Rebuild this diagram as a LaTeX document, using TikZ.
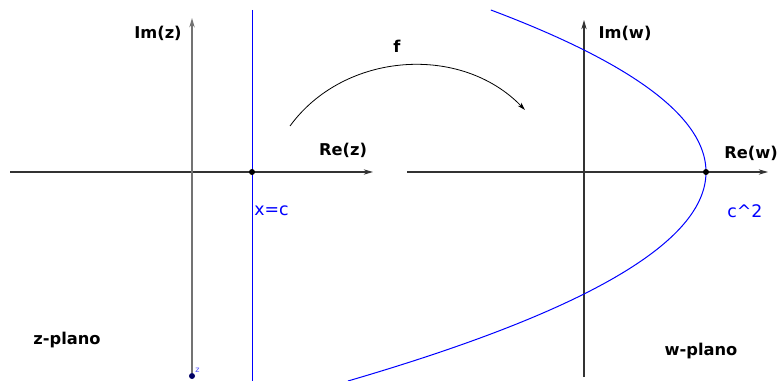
\documentclass[tikz,border=0pt]{standalone}
\usepackage{fontspec}
\setmainfont{DejaVu Sans}
\usetikzlibrary{arrows.meta, positioning}

\begin{document}
\begin{tikzpicture}[
			x=0.75pt, y=-0.75pt,
			% Node styles
			axisLabel/.style={font=\fontsize{12.2}{14}\selectfont\bfseries, inner sep=0pt},
			blueLabel/.style={font=\fontsize{13}{15}\selectfont, text=blue, inner sep=0pt, anchor=west},
			dotNode/.style={circle, fill=black, inner sep=0pt, minimum size=4.5pt},
			% Line styles
			axisLine/.style={draw=black!80, line width=0.8pt, -{Stealth[length=7pt, width=4pt]}},
			curveLine/.style={draw=blue, line width=0.75pt}
			]
			\useasboundingbox (0,0) rectangle (779,381);
			
			% =========================================================
			% 1. THE z-PLANE (Left)
			% =========================================================
			
			% Axis end points
			\coordinate (zLeft) at (10,172);
			\coordinate (zRight) at (373,172);
			\coordinate (zTop) at (192,18);
			
			% Origin of the bottom point (labelled z)
			\node[dotNode, fill=blue!40!black] (zPt) at (192,376) {};
			\node[font=\fontsize{6}{7}\selectfont, text=blue!70, inner sep=0pt, anchor=west] (zTag) at (195,370) {z};
			
			\draw[axisLine] (zLeft) -- (zRight);
			\draw[axisLine, draw=black!55, line width=1.1pt] (zPt) -- (zTop);
			
			% The vertical line x=c
			\coordinate (lineTop) at (252,10);
			\coordinate (lineBot) at (252,381);
			\draw[curveLine] (lineTop) -- (lineBot);
			\node[dotNode] (cPt) at (252,172) {};
			
			% Labels
			\node[axisLabel] (imZ) at (158,33) {Im(z)};
			\node[axisLabel] (reZ) at (343,150) {Re(z)};
			\node[blueLabel] (xEqC) at (254,211) {x=c};
			\node[axisLabel] (zPlano) at (67,340) {z-plano};
			
			% =========================================================
			% 2. THE MAP f
			% =========================================================
			
			\coordinate (fStart) at (290,126);
			\coordinate (fEnd) at (525,110);
			\draw[line width=0.6pt, -{Stealth[length=6pt, width=3.5pt]}] (fStart) to[bend left=50] (fEnd);
			\node[axisLabel] (fLabel) at (397,46) {f};
			
			% =========================================================
			% 3. THE w-PLANE (Right)
			% =========================================================
			
			\coordinate (wLeft) at (407,172);
			\coordinate (wRight) at (768,172);
			\coordinate (wTop) at (584,20);
			\coordinate (wBot) at (584,377);
			
			\draw[axisLine] (wLeft) -- (wRight);
			\draw[axisLine] (wBot) -- (wTop);
			
			% Image of x=c: the parabola with vertex c^2
			\draw[curveLine] plot[domain=10:381, samples=80, smooth] ({706-((\x-172)/11.045)^2}, \x);
			\node[dotNode] (c2Pt) at (706,172) {};
			
			% Labels
			\node[axisLabel] (imW) at (625,33) {Im(w)};
			\node[axisLabel] (reW) at (751,153) {Re(w)};
			\node[blueLabel] (cSq) at (727,211) {c\^{}2};
			\node[axisLabel] (wPlano) at (701,351) {w-plano};
			
		\end{tikzpicture}
\end{document}
